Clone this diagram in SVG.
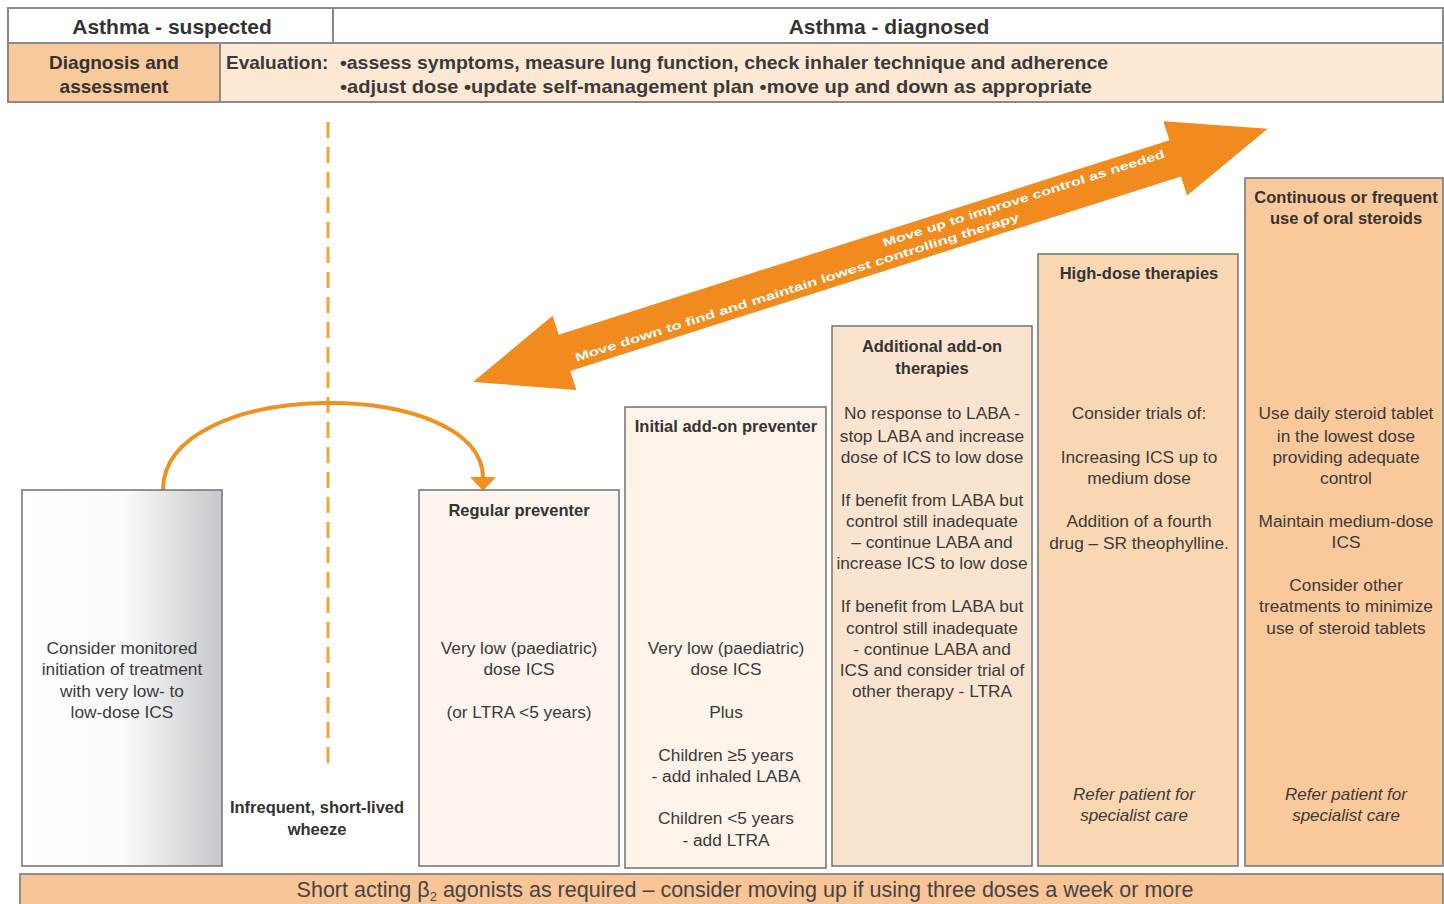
<svg xmlns="http://www.w3.org/2000/svg" width="1444" height="904" viewBox="0 0 1444 904">
<style>
text{font-family:"Liberation Sans",Arial,sans-serif;fill:#3a3a3a;text-anchor:middle}
.hd{font-size:21px;font-weight:bold;fill:#333}
.dg{font-size:19px;font-weight:bold;fill:#333}
.ev{font-size:19px;font-weight:bold;fill:#3a3a3a;text-anchor:start}
.t{font-size:17.3px}
.b{font-size:16.5px;font-weight:bold;fill:#333}
.i{font-size:17px;font-style:italic}
.box{stroke:#7a7a7a;stroke-width:1.6}
.aw{font-size:11.5px;font-weight:bold;fill:#fff;text-anchor:start}
</style>
<defs>
<linearGradient id="gr" x1="0" y1="0" x2="1" y2="0">
<stop offset="0" stop-color="#ffffff"/>
<stop offset="0.5" stop-color="#fbfbfb"/>
<stop offset="1" stop-color="#c4c8cc"/>
</linearGradient>
</defs>

<g id="header">
<rect x="8" y="8" width="1435" height="35" fill="#ffffff" stroke="#8a8a8a" stroke-width="2"/>
<rect x="8" y="43" width="212" height="59" fill="#f8c99b" stroke="#8a8a8a" stroke-width="2"/>
<rect x="220" y="43" width="1223" height="59" fill="#fde8d3" stroke="#8a8a8a" stroke-width="2"/>
<line x1="333" y1="8" x2="333" y2="43" stroke="#8a8a8a" stroke-width="2"/>
<text class="hd" x="172" y="34">Asthma - suspected</text>
<text class="hd" x="889" y="34">Asthma - diagnosed</text>
<text class="dg" x="114" y="69">Diagnosis and</text>
<text class="dg" x="114" y="93">assessment</text>
<text class="ev" x="226" y="69">Evaluation:</text>
<text class="ev" x="340" y="69" textLength="768" lengthAdjust="spacingAndGlyphs">•assess symptoms, measure lung function, check inhaler technique and adherence</text>
<text class="ev" x="340" y="93" textLength="752" lengthAdjust="spacingAndGlyphs">•adjust dose •update self-management plan •move up and down as appropriate</text>
</g>

<g id="connectors">
<line x1="328" y1="122" x2="328" y2="768" stroke="#f0a534" stroke-width="3" stroke-dasharray="16 9"/>
<path d="M163,490 C163,376 483,376 483,478" fill="none" stroke="#f0901e" stroke-width="4"/>
<polygon points="470,477 496,477 483,491" fill="#f0901e"/>
<g transform="translate(473,382) rotate(-17.67)">
<polygon points="0,0 96,-39 96,-19 737,-19 737,-39 834,0 737,39 737,19 96,19 96,39" fill="#f28b1e"/>
<text class="aw" x="433" y="-4" textLength="295" lengthAdjust="spacingAndGlyphs">Move up to improve control as needed</text>
<text class="aw" x="105" y="12" textLength="465" lengthAdjust="spacingAndGlyphs">Move down to find and maintain lowest controlling therapy</text>
</g>
</g>

<g id="node-initiation">
<rect class="box" x="22" y="490" width="200" height="376" fill="url(#gr)"/>
<text class="t" x="122" y="654">Consider monitored</text>
<text class="t" x="122" y="675">initiation of treatment</text>
<text class="t" x="122" y="697">with very low- to</text>
<text class="t" x="122" y="718">low-dose ICS</text>
</g>

<g id="node-wheeze">
<text class="b" x="317" y="813">Infrequent, short-lived</text>
<text class="b" x="317" y="835">wheeze</text>
</g>

<g id="node-regular">
<rect class="box" x="419" y="490" width="200" height="376" fill="#fdf5ed"/>
<text class="b" x="519" y="516">Regular preventer</text>
<text class="t" x="519" y="654">Very low (paediatric)</text>
<text class="t" x="519" y="675">dose ICS</text>
<text class="t" x="519" y="718">(or LTRA &lt;5 years)</text>
</g>

<g id="node-initial">
<rect class="box" x="625" y="407" width="201" height="461" fill="#fdf3e9"/>
<text class="b" x="726" y="432">Initial add-on preventer</text>
<text class="t" x="726" y="654">Very low (paediatric)</text>
<text class="t" x="726" y="675">dose ICS</text>
<text class="t" x="726" y="718">Plus</text>
<text class="t" x="726" y="761">Children ≥5 years</text>
<text class="t" x="726" y="782">- add inhaled LABA</text>
<text class="t" x="726" y="824">Children &lt;5 years</text>
<text class="t" x="726" y="846">- add LTRA</text>
</g>

<g id="node-additional">
<rect class="box" x="832" y="326" width="200" height="540" fill="#fbe4cf"/>
<text class="b" x="932" y="352">Additional add-on</text>
<text class="b" x="932" y="374">therapies</text>
<text class="t" x="932" y="419">No response to LABA  -</text>
<text class="t" x="932" y="442">stop LABA and increase</text>
<text class="t" x="932" y="463">dose of ICS to low dose</text>
<text class="t" x="932" y="506">If benefit from LABA but</text>
<text class="t" x="932" y="527">control still inadequate</text>
<text class="t" x="932" y="548">– continue LABA and</text>
<text class="t" x="932" y="569">increase ICS to low dose</text>
<text class="t" x="932" y="612">If benefit from LABA but</text>
<text class="t" x="932" y="634">control still inadequate</text>
<text class="t" x="932" y="655">- continue LABA and</text>
<text class="t" x="932" y="676">ICS and consider trial of</text>
<text class="t" x="932" y="697">other therapy - LTRA</text>
</g>

<g id="node-highdose">
<rect class="box" x="1038" y="254" width="200" height="612" fill="#fad7b3"/>
<text class="b" x="1139" y="279">High-dose therapies</text>
<text class="t" x="1139" y="419">Consider trials of:</text>
<text class="t" x="1139" y="463">Increasing ICS up to</text>
<text class="t" x="1139" y="484">medium dose</text>
<text class="t" x="1139" y="527">Addition of a fourth</text>
<text class="t" x="1139" y="549">drug – SR theophylline.</text>
<text class="i" x="1134" y="800">Refer patient for</text>
<text class="i" x="1134" y="821">specialist care</text>
</g>

<g id="node-continuous">
<rect class="box" x="1245" y="178" width="198" height="688" fill="#f9c99b"/>
<text class="b" x="1346" y="203">Continuous or frequent</text>
<text class="b" x="1346" y="224">use of oral steroids</text>
<text class="t" x="1346" y="419">Use daily steroid tablet</text>
<text class="t" x="1346" y="442">in the lowest dose</text>
<text class="t" x="1346" y="463">providing adequate</text>
<text class="t" x="1346" y="484">control</text>
<text class="t" x="1346" y="527">Maintain medium-dose</text>
<text class="t" x="1346" y="548">ICS</text>
<text class="t" x="1346" y="591">Consider other</text>
<text class="t" x="1346" y="612">treatments to minimize</text>
<text class="t" x="1346" y="634">use of steroid tablets</text>
<text class="i" x="1346" y="800">Refer patient for</text>
<text class="i" x="1346" y="821">specialist care</text>
</g>

<g id="node-saba">
<rect class="box" x="20" y="874" width="1423" height="32" fill="#f9c596"/>
<text x="745" y="897" style="font-size:21.5px;fill:#444">Short acting β<tspan style="font-size:13px" dy="4">2</tspan><tspan dy="-4"> agonists as required – consider moving up if using three doses a week or more</tspan></text>
</g>
</svg>
